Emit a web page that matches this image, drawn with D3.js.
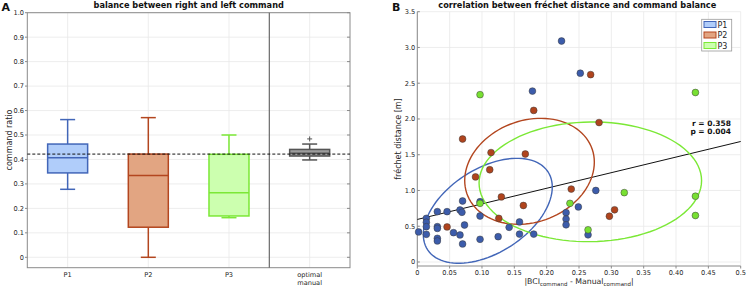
<!DOCTYPE html>
<html>
<head>
<meta charset="utf-8">
<script src="https://cdn.jsdelivr.net/npm/d3@7"></script>
<style>
body { margin: 0; background: #fff; }
text { font-family: "DejaVu Sans", sans-serif; }
</style>
</head>
<body>
<svg id="chart" width="747" height="287"></svg>
<script>
// ---- panel A data (box statistics) ----
const boxCats = ["P1", "P2", "P3", "optimal manual"];
const whiskLo = [0.278, 0.0, 0.162, 0.398];
const boxLo = [0.345, 0.123, 0.169, 0.414];
const boxMed = [0.407, 0.334, 0.264, 0.425];
const boxHi = [0.463, 0.422, 0.421, 0.441];
const whiskHi = [0.563, 0.571, 0.5, 0.463];
const outlierVals = [null, null, null, 0.484];
const balanceRef = 0.422;
const yTicksA = [0, 0.1, 0.2, 0.3, 0.4, 0.5, 0.6, 0.7, 0.8, 0.9, 1.0];
const yTickLabelsA = ["0", "0.1", "0.2", "0.3", "0.4", "0.5", "0.6", "0.7", "0.8", "0.9", "1.0"];

// ---- panel B data ----
const groups = ["P1", "P2", "P3"];
const p1Points = [
    [0.002, 0.42], [0.014, 0.61], [0.014, 0.555], [0.014, 0.494], [0.014, 0.387],
    [0.031, 0.704], [0.031, 0.494], [0.031, 0.47], [0.031, 0.331], [0.031, 0.294],
    [0.046, 0.704], [0.056, 0.41], [0.066, 0.727], [0.069, 0.695], [0.070, 0.853],
    [0.066, 0.378], [0.070, 0.252], [0.073, 0.517], [0.097, 0.843], [0.097, 0.643],
    [0.097, 0.317], [0.125, 0.354], [0.142, 0.485], [0.158, 0.56], [0.158, 0.39],
    [0.18, 0.39], [0.223, 3.09], [0.252, 2.64], [0.178, 2.39], [0.276, 1.0],
    [0.249, 0.77], [0.23, 0.69], [0.23, 0.6], [0.23, 0.52], [0.264, 0.38]
];
const p2Points = [
    [0.07, 1.72], [0.114, 1.53], [0.167, 1.51], [0.112, 1.29], [0.09, 1.19],
    [0.13, 0.91], [0.238, 1.02], [0.164, 0.79], [0.126, 0.61], [0.046, 0.49],
    [0.305, 0.73], [0.297, 0.64], [0.281, 1.95], [0.18, 2.12], [0.268, 2.62]
];
const p3Points = [
    [0.097, 2.34], [0.43, 2.37], [0.097, 0.82], [0.236, 0.82], [0.32, 0.97],
    [0.43, 0.92], [0.43, 0.65], [0.264, 0.45]
];
// spread ellipses: centre, sd in x, sd in y, correlation
const ellipseCx = [0.109, 0.1735, 0.2675];
const ellipseCy = [0.716, 1.268, 1.121];
const ellipseSx = [0.0997, 0.1002, 0.172];
const ellipseSy = [0.734, 0.741, 0.837];
const ellipseRho = [0.453, 0.173, 0.02];
const fitIntercept = 0.595;
const fitSlope = 2.18;
const statLines = ["r = 0.358", "p = 0.004"];
const xTicksB = [0, 0.05, 0.1, 0.15, 0.2, 0.25, 0.3, 0.35, 0.4, 0.45, 0.5];
const xTickLabelsB = ["0", "0.05", "0.10", "0.15", "0.20", "0.25", "0.30", "0.35", "0.40", "0.45", "0.5"];
const yTicksB = [0, 0.5, 1, 1.5, 2, 2.5, 3, 3.5];
const yTickLabelsB = ["0", "0.5", "1.0", "1.5", "2.0", "2.5", "3.0", "3.5"];

const strokeCol = ["#4266b8", "#b3461f", "#7be836", "#555555"];
const fillCol = ["#b0cdfa", "#e2a582", "#ccffaf", "#9c9c9c"];
const dotCol = ["#3c5cab", "#b0441d", "#78e032"];

const svg = d3.select("#chart");
const gridCol = "#e8e8e8", axisCol = "#8a8a8a", textCol = "#262626";
const tickFont = 6.6, labelFont = 8, titleFont = 8.2;

// ================= panel A =================
const xA = d3.scalePoint().domain(boxCats).range([27.3, 350]).padding(0.5);
const yA = d3.scaleLinear().domain([0, 1]).range([257.3, 12.7]);
const bottomA = 267.7;
const gA = svg.append("g");

gA.selectAll("line.hg").data(yTicksA).enter().append("line")
    .attr("x1", 27.3).attr("x2", 350)
    .attr("y1", d => yA(d)).attr("y2", d => yA(d))
    .attr("stroke", gridCol).attr("stroke-width", 0.8);
gA.selectAll("line.vg").data(boxCats).enter().append("line")
    .attr("x1", d => xA(d)).attr("x2", d => xA(d))
    .attr("y1", 12.7).attr("y2", bottomA)
    .attr("stroke", gridCol).attr("stroke-width", 0.8);

// frame
gA.append("rect").attr("x", 27.3).attr("y", 12.7).attr("width", 350 - 27.3).attr("height", bottomA - 12.7)
    .attr("fill", "none").attr("stroke", axisCol).attr("stroke-width", 1);
gA.selectAll("line.lt").data(yTicksA).enter().append("line")
    .attr("x1", 25).attr("x2", 27.3).attr("y1", d => yA(d)).attr("y2", d => yA(d))
    .attr("stroke", axisCol);
gA.selectAll("line.rt").data(yTicksA).enter().append("line")
    .attr("x1", 347).attr("x2", 350).attr("y1", d => yA(d)).attr("y2", d => yA(d))
    .attr("stroke", axisCol);
gA.selectAll("text.yl").data(yTicksA).enter().append("text")
    .attr("x", 24).attr("y", d => yA(d) + 2.4)
    .attr("text-anchor", "end").attr("font-size", tickFont).attr("fill", textCol)
    .text((d, i) => yTickLabelsA[i]);

// separator between participants and optimal
const sepX = (xA("P3") + xA("optimal manual")) / 2;
gA.append("line").attr("x1", sepX).attr("x2", sepX).attr("y1", 12.7).attr("y2", bottomA)
    .attr("stroke", "#6a6a6a").attr("stroke-width", 1.2);

// boxes
const boxW = 40, capW = 15;
boxCats.forEach((c, i) => {
    const cx = xA(c);
    const g = gA.append("g").attr("stroke", strokeCol[i]).attr("stroke-width", 1.5);
    g.append("line").attr("x1", cx).attr("x2", cx).attr("y1", yA(whiskHi[i])).attr("y2", yA(boxHi[i]));
    g.append("line").attr("x1", cx).attr("x2", cx).attr("y1", yA(boxLo[i])).attr("y2", yA(whiskLo[i]));
    g.append("line").attr("x1", cx - capW / 2).attr("x2", cx + capW / 2).attr("y1", yA(whiskHi[i])).attr("y2", yA(whiskHi[i]));
    g.append("line").attr("x1", cx - capW / 2).attr("x2", cx + capW / 2).attr("y1", yA(whiskLo[i])).attr("y2", yA(whiskLo[i]));
    g.append("rect").attr("x", cx - boxW / 2).attr("y", yA(boxHi[i]))
        .attr("width", boxW).attr("height", yA(boxLo[i]) - yA(boxHi[i]))
        .attr("fill", fillCol[i]);
    g.append("line").attr("x1", cx - boxW / 2).attr("x2", cx + boxW / 2).attr("y1", yA(boxMed[i])).attr("y2", yA(boxMed[i]));
    if (outlierVals[i] != null) {
        const oy = yA(outlierVals[i]);
        g.append("path").attr("d", `M${cx - 2.5},${oy}H${cx + 2.5}M${cx},${oy - 2.5}V${oy + 2.5}`)
            .attr("stroke-width", 1);
    }
});

gA.append("line").attr("x1", 27.3).attr("x2", 350).attr("y1", yA(balanceRef)).attr("y2", yA(balanceRef))
    .attr("stroke", "#111").attr("stroke-width", 1).attr("stroke-dasharray", "3,2");

// category labels
boxCats.forEach(c => {
    const parts = c.split(" ");
    parts.forEach((p, j) => {
        gA.append("text").attr("x", xA(c)).attr("y", 277 + j * 8)
            .attr("text-anchor", "middle").attr("font-size", tickFont).attr("fill", textCol).text(p);
    });
});

gA.append("text").attr("transform", "translate(11.5,140) rotate(-90)")
    .attr("text-anchor", "middle").attr("font-size", labelFont).attr("fill", textCol).text("command ratio");
gA.append("text").attr("x", 188.7).attr("y", 8).attr("text-anchor", "middle")
    .attr("font-size", titleFont).attr("font-weight", "bold").attr("fill", "#111")
    .text("balance between right and left command");
gA.append("text").attr("x", 1.5).attr("y", 10.5).attr("font-size", 11).attr("font-weight", "bold")
    .attr("fill", "#111").text("A");

// ================= panel B =================
const xB = d3.scaleLinear().domain([0, 0.5]).range([417.3, 740.7]);
const yB = d3.scaleLinear().domain([-0.056, 3.5]).range([266, 11.7]);
const gB = svg.append("g");

gB.selectAll("line.hg").data(yTicksB).enter().append("line")
    .attr("x1", xB(0)).attr("x2", xB(0.5)).attr("y1", d => yB(d)).attr("y2", d => yB(d))
    .attr("stroke", gridCol).attr("stroke-width", 0.8);
gB.selectAll("line.vg").data(xTicksB).enter().append("line")
    .attr("x1", d => xB(d)).attr("x2", d => xB(d)).attr("y1", 11.7).attr("y2", 266)
    .attr("stroke", gridCol).attr("stroke-width", 0.8);

gB.append("line").attr("x1", xB(0)).attr("x2", xB(0)).attr("y1", 11.7).attr("y2", 266)
    .attr("stroke", axisCol);
gB.append("line").attr("x1", xB(0)).attr("x2", xB(0.5)).attr("y1", 266).attr("y2", 266)
    .attr("stroke", axisCol);
gB.selectAll("line.yt").data(yTicksB).enter().append("line")
    .attr("x1", xB(0)).attr("x2", xB(0) + 2.5).attr("y1", d => yB(d)).attr("y2", d => yB(d))
    .attr("stroke", axisCol);
gB.selectAll("line.xt").data(xTicksB).enter().append("line")
    .attr("x1", d => xB(d)).attr("x2", d => xB(d)).attr("y1", 266).attr("y2", 268.5)
    .attr("stroke", axisCol);
gB.selectAll("text.yl").data(yTicksB).enter().append("text")
    .attr("x", xB(0) - 2).attr("y", d => yB(d) + 2.4)
    .attr("text-anchor", "end").attr("font-size", tickFont).attr("fill", textCol)
    .text((d, i) => yTickLabelsB[i]);
gB.selectAll("text.xl").data(xTicksB).enter().append("text")
    .attr("x", d => xB(d)).attr("y", 274.5)
    .attr("text-anchor", "middle").attr("font-size", tickFont).attr("fill", textCol)
    .text((d, i) => xTickLabelsB[i]);

// regression line
gB.append("line")
    .attr("x1", xB(0)).attr("y1", yB(fitIntercept))
    .attr("x2", xB(0.5)).attr("y2", yB(fitIntercept + fitSlope * 0.5))
    .attr("stroke", "#111").attr("stroke-width", 1);

// ellipses
const ts = d3.range(0, 101).map(k => k / 100 * 2 * Math.PI);
const ellLine = d3.line().curve(d3.curveLinearClosed);
groups.forEach((grp, i) => {
    const pts = ts.map(t => {
        const dx = ellipseSx[i] * Math.cos(t);
        const dy = ellipseSy[i] * (ellipseRho[i] * Math.cos(t) + Math.sqrt(1 - ellipseRho[i] ** 2) * Math.sin(t));
        return [xB(ellipseCx[i] + dx), yB(ellipseCy[i] + dy)];
    });
    gB.append("path").attr("d", ellLine(pts)).attr("fill", "none")
        .attr("stroke", strokeCol[i]).attr("stroke-width", 1.4);
});

// points
[p1Points, p2Points, p3Points].forEach((pts, i) => {
    gB.append("g").selectAll("circle").data(pts).enter().append("circle")
        .attr("cx", d => xB(d[0])).attr("cy", d => yB(d[1])).attr("r", 3.4)
        .attr("fill", dotCol[i]).attr("stroke", "#3a3a3a").attr("stroke-width", 0.5);
});

// stats text
statLines.forEach((s, j) => {
    gB.append("text").attr("x", 731).attr("y", 125.5 + j * 8.5).attr("text-anchor", "end")
        .attr("font-size", 7.5).attr("font-weight", "bold").attr("fill", "#111").text(s);
});

// legend
const leg = gB.append("g");
leg.append("rect").attr("x", 701.7).attr("y", 19.3).attr("width", 30).attr("height", 31.7)
    .attr("fill", "#fff").attr("stroke", "#9a9a9a").attr("stroke-width", 0.8);
groups.forEach((grp, i) => {
    const cy = 24.5 + i * 10.5;
    leg.append("rect").attr("x", 704).attr("y", cy - 3).attr("width", 12).attr("height", 6)
        .attr("fill", fillCol[i]).attr("stroke", strokeCol[i]).attr("stroke-width", 1);
    leg.append("text").attr("x", 717.5).attr("y", cy + 3).attr("font-size", 8).attr("fill", textCol).text(grp);
});

// labels
gB.append("text").attr("transform", "translate(401,139) rotate(-90)")
    .attr("text-anchor", "middle").attr("font-size", labelFont).attr("fill", textCol).text("fréchet distance [m]");
const xl = gB.append("text").attr("x", 579).attr("y", 284).attr("text-anchor", "middle")
    .attr("font-size", 7.8).attr("fill", textCol);
xl.append("tspan").text("|BCI");
xl.append("tspan").attr("font-size", 5.5).attr("dy", 2).text("command");
xl.append("tspan").attr("dy", -2).text(" - Manual");
xl.append("tspan").attr("font-size", 5.5).attr("dy", 2).text("command");
xl.append("tspan").attr("dy", -2).text("|");

gB.append("text").attr("x", 577.3).attr("y", 8).attr("text-anchor", "middle")
    .attr("font-size", titleFont).attr("font-weight", "bold").attr("fill", "#111")
    .text("correlation between fréchet distance and command balance");
gB.append("text").attr("x", 392).attr("y", 10.5).attr("font-size", 11).attr("font-weight", "bold")
    .attr("fill", "#111").text("B");
</script>
</body>
</html>
